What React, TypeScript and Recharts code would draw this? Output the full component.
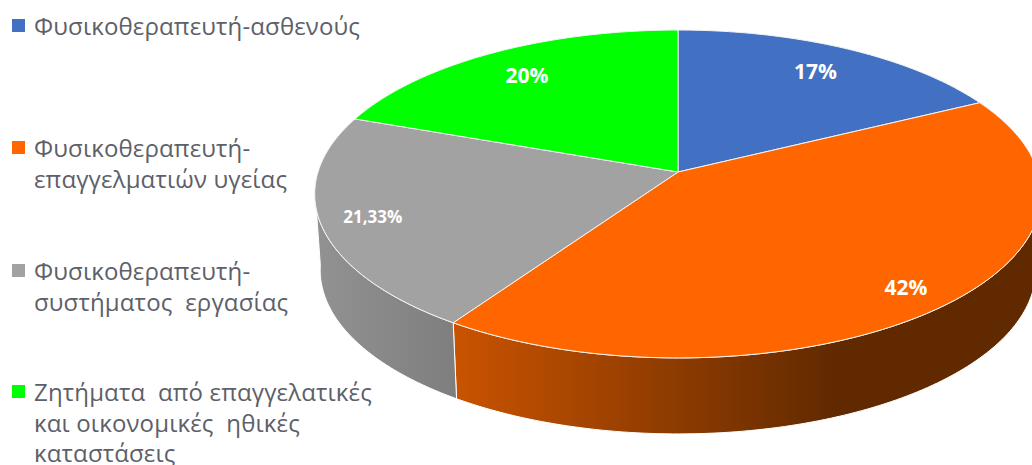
import { Legend, Pie, PieChart } from 'recharts';

const categories = [
  'Φυσικοθεραπευτή-ασθενούς',
  'Φυσικοθεραπευτή-\nεπαγγελματιών υγείας',
  'Φυσικοθεραπευτή-\nσυστήματος  εργασίας',
  'Ζητήματα  από επαγγελατικές\nκαι οικονομικές  ηθικές\nκαταστάσεις',
];
const shares = [17, 42, 21.33, 20];
const valueLabels = ['17%', '42%', '21,33%', '20%'];
const colors = ['#4270c2', '#ff6600', '#a2a2a2', '#00ff00'];

const data = categories.map((name, i) => ({ name, value: shares[i], fill: colors[i] }));

// Tilted-disc projection: x/y ratio, perspective strength, rim height
const SQUASH = 161 / 360;
const PERSPECTIVE = 0.134;
const RIM_DEPTH = 76;
const RIM_SCALE = 0.985;
const RIM_FROM = -8;
const RIM_TO = -172;
// Camera swing in degrees, eases in away from the 12 o'clock seam
const SWING = 2;

const labelRadius = [0.8, 0.87, 0.86, 0.8];
const labelSize = [21, 21, 17, 21];
const legendTop = [16, 138, 261, 382];

const rad = Math.PI / 180;

function project(cx: number, cy: number, r: number, deg: number, frac = 1, rim = false) {
  const fromTop = (90 - deg) * rad;
  const seen = deg - SWING * (1 - Math.cos(fromTop / 2) ** 16);
  const u = Math.cos(seen * rad) * frac;
  const v = -Math.sin(seen * rad) * frac;
  const w = 1 - PERSPECTIVE * v;
  const k = rim ? RIM_SCALE : 1;
  return {
    x: cx + (r * k * u) / w,
    y: cy + (rim ? RIM_DEPTH : 0) + (r * SQUASH * v) / w,
  };
}

function arc(cx: number, cy: number, r: number, from: number, to: number, rim = false) {
  const steps = Math.max(2, Math.ceil(Math.abs(to - from)));
  const pts: string[] = [];
  for (let i = 0; i <= steps; i++) {
    const p = project(cx, cy, r, from + ((to - from) * i) / steps, 1, rim);
    pts.push(`${p.x.toFixed(2)} ${p.y.toFixed(2)}`);
  }
  return pts;
}

function DiscSlice(props: any) {
  const { cx, cy, outerRadius, startAngle, endAngle, index } = props;
  const top = arc(cx, cy, outerRadius, startAngle, endAngle);
  const wallFrom = Math.min(startAngle, RIM_FROM);
  const wallTo = Math.max(endAngle, RIM_TO);
  return (
    <g>
      {wallFrom > wallTo && (
        <path
          d={`M${arc(cx, cy, outerRadius, wallFrom, wallTo).join('L')}L${arc(cx, cy, outerRadius, wallTo, wallFrom, true).join('L')}Z`}
          fill={`url(#rim-${index})`}
          stroke="#ffffff"
          strokeWidth={1}
        />
      )}
      <path d={`M${cx} ${cy}L${top.join('L')}Z`} fill={colors[index]} stroke="#f4f4f4" strokeWidth={1} />
    </g>
  );
}

function sliceLabel(props: any) {
  const { cx, cy, outerRadius, midAngle, index } = props;
  const p = project(cx, cy, outerRadius, midAngle, labelRadius[index]);
  return (
    <text
      x={p.x}
      y={p.y}
      fill="#ffffff"
      fontFamily="'Open Sans', sans-serif"
      fontWeight={700}
      fontSize={labelSize[index]}
      textAnchor="middle"
      dominantBaseline="central"
    >
      {valueLabels[index]}
    </text>
  );
}

function LegendList() {
  return (
    <div style={{ position: 'relative', width: 380, height: 465 }}>
      {categories.map((name, i) => (
        <div key={name} style={{ position: 'absolute', left: 0, top: legendTop[i], width: 380 }}>
          <span
            style={{
              position: 'absolute',
              left: 12,
              top: 3,
              width: 13,
              height: 13,
              background: colors[i],
            }}
          />
          {name.split('\n').map((line) => (
            <div
              key={line}
              style={{
                marginLeft: 34,
                marginBottom: 10.5,
                whiteSpace: 'pre',
                fontFamily: "'Open Sans', sans-serif",
                fontSize: 24,
                letterSpacing: 0.15,
                lineHeight: '20px',
                height: 20,
                color: '#5d6068',
              }}
            >
              {line}
            </div>
          ))}
        </div>
      ))}
    </div>
  );
}

export default function App() {
  return (
    <div style={{ position: 'absolute', left: 0, top: 0, width: 1032, height: 465, background: '#fff' }}>
      <PieChart width={1032} height={465} margin={{ top: 0, right: 0, bottom: 0, left: 0 }}>
        <defs>
          <linearGradient id="rim-1" gradientUnits="userSpaceOnUse" x1={455} y1={0} x2={840} y2={0}>
            <stop offset="0%" stopColor="#c95300" />
            <stop offset="100%" stopColor="#602900" />
          </linearGradient>
          <linearGradient id="rim-2" gradientUnits="userSpaceOnUse" x1={316} y1={0} x2={458} y2={0}>
            <stop offset="0%" stopColor="#929292" />
            <stop offset="100%" stopColor="#7e7e7e" />
          </linearGradient>
        </defs>
        <Legend
          content={LegendList}
          wrapperStyle={{ position: 'absolute', left: 0, top: 0, width: 380, height: 465 }}
        />
        <Pie
          data={data}
          dataKey="value"
          nameKey="name"
          cx={678}
          cy={172}
          outerRadius={360}
          startAngle={90}
          endAngle={-270}
          stroke="none"
          shape={DiscSlice}
          label={sliceLabel}
          labelLine={false}
          isAnimationActive={false}
        />
      </PieChart>
    </div>
  );
}
